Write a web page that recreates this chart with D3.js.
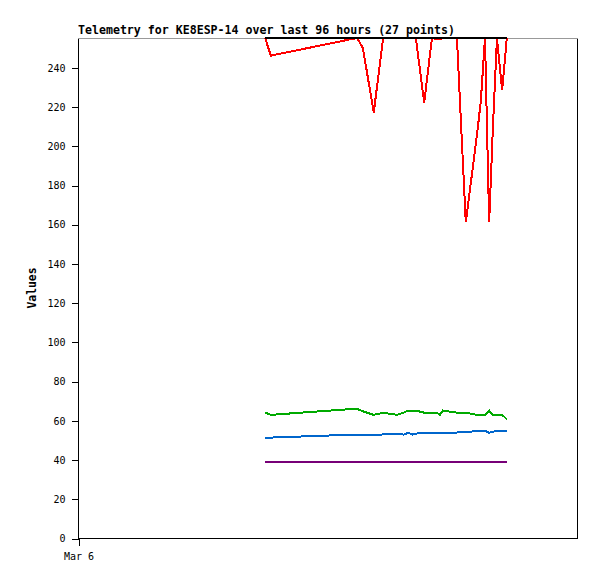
<!DOCTYPE html>
<html>
<head>
<meta charset="utf-8">
<script src="https://cdn.jsdelivr.net/npm/d3@7/dist/d3.min.js"></script>
<style>
body { margin: 0; background: #fff; }
text { font-family: "DejaVu Sans Mono", monospace; }
</style>
</head>
<body>
<div id="chart"></div>
<script>
// telemetry for the last 96 hours, hour offsets from Mar 6 00:00
var hours = [36.0, 37.1, 52.7, 53.7, 54.8, 56.9, 58.7, 61.4, 62.7, 63.5, 64.4, 65.0, 66.6, 68.1,
    69.1, 69.6, 70.2, 72.9, 74.6, 76.8, 77.5, 78.3, 79.1, 79.8, 80.6, 81.6, 82.5];

var redVals = [255, 246, 254.5, 255, 250, 217, 255, 255, 255, 255, 255, 255, 222, 255,
    254.3, 254.3, 255, 255, 161, 206.5, 223, 255, 161, 208, 255, 228.5, 255];
var greenVals = [64.0, 62.8, 65.8, 65.8, 64.6, 62.8, 63.9, 62.8, 64.0, 65.0, 65.0, 65.0, 63.9, 63.9,
    63.9, 62.8, 65.0, 63.9, 63.9, 62.8, 62.8, 62.8, 65.0, 62.8, 62.8, 62.8, 60.6];
var blueVals = [51.2, 51.2, 52.7, 52.7, 52.7, 52.7, 52.8, 53.2, 52.7, 53.7, 52.7, 53.2, 53.7, 53.7,
    53.7, 53.8, 53.8, 53.8, 53.9, 54.7, 54.7, 54.7, 53.7, 54.2, 54.7, 54.7, 54.7];
var purpleVals = [39, 39, 39, 39, 39, 39, 39, 39, 39, 39, 39, 39, 39, 39,
    39, 39, 39, 39, 39, 39, 39, 39, 39, 39, 39, 39, 39];
var blackVals = [255, 255, 255, 255, 255, 255, 255, 255, 255, 255, 255, 255, 255, 255,
    255, 255, 255, 255, 255, 255, 255, 255, 255, 255, 255, 255, 255];

var yTicks = [0, 20, 40, 60, 80, 100, 120, 140, 160, 180, 200, 220, 240];
var xTickHours = [0];
var xTickLabels = ["Mar 6"];

var W = 597, H = 579;
var margin = {top: 38, right: 20, bottom: 41, left: 78};
var w = W - margin.left - margin.right,
    h = H - margin.top - margin.bottom;

var svg = d3.select("#chart").append("svg")
    .attr("width", W)
    .attr("height", H);

var x = d3.scaleLinear().domain([0, 96]).range([0, w]);
var y = d3.scaleLinear().domain([0, 255]).range([h, 0]);

var g = svg.append("g")
    .attr("transform", "translate(" + margin.left + "," + margin.top + ")");

// title
svg.append("text")
    .attr("x", margin.left)
    .attr("y", 34)
    .style("font-size", "11.6px")
    .style("font-weight", "bold")
    .text("Telemetry for KE8ESP-14 over last 96 hours (27 points)");

// frame
g.append("rect")
    .attr("x", 0.5).attr("y", 0.5)
    .attr("width", w).attr("height", h)
    .attr("fill", "none")
    .attr("stroke", "#000")
    .attr("shape-rendering", "crispEdges");
g.append("line")
    .attr("x1", 0).attr("x2", w + 1)
    .attr("y1", 0.5).attr("y2", 0.5)
    .attr("stroke", "#999")
    .attr("shape-rendering", "crispEdges");

// y axis
var yAxis = d3.axisLeft(y)
    .tickValues(yTicks)
    .tickSize(7)
    .tickPadding(6)
    .tickFormat(function(d) { return d; });

var ya = g.append("g").attr("transform", "translate(0.5,0.5)").call(yAxis);
ya.select(".domain").remove();
ya.selectAll("line").attr("shape-rendering", "crispEdges");
ya.selectAll("text")
    .style("font-family", "'DejaVu Sans Mono', monospace")
    .style("font-size", "10px");

// x axis
var xAxis = d3.axisBottom(x)
    .tickValues(xTickHours)
    .tickSize(7)
    .tickPadding(7)
    .tickFormat(function(d, i) { return xTickLabels[i]; });

var xa = g.append("g").attr("transform", "translate(0.5," + (h + 0.5) + ")").call(xAxis);
xa.select(".domain").remove();
xa.selectAll("line").attr("shape-rendering", "crispEdges");
xa.selectAll("text")
    .style("font-family", "'DejaVu Sans Mono', monospace")
    .style("font-size", "10px");

// y label
svg.append("text")
    .attr("transform", "translate(36," + (margin.top + h / 2) + ") rotate(-90)")
    .attr("text-anchor", "middle")
    .style("font-size", "11.4px")
    .style("font-weight", "bold")
    .text("Values");

// series
var series = [
    {vals: redVals, color: "#ff0000"},
    {vals: greenVals, color: "#00aa00"},
    {vals: blueVals, color: "#0066cc"},
    {vals: purpleVals, color: "#770077"},
    {vals: blackVals, color: "#000000"}
];

var line = d3.line()
    .x(function(d) { return x(d[0]); })
    .y(function(d) { return y(d[1]); });

g.selectAll("path.series")
    .data(series)
    .enter()
    .append("path")
    .attr("class", "series")
    .attr("fill", "none")
    .attr("stroke", function(d) { return d.color; })
    .attr("stroke-width", 2)
    .attr("shape-rendering", "crispEdges")
    .attr("d", function(d) {
        return line(hours.map(function(t, i) { return [t, d.vals[i]]; }));
    });
</script>
</body>
</html>
